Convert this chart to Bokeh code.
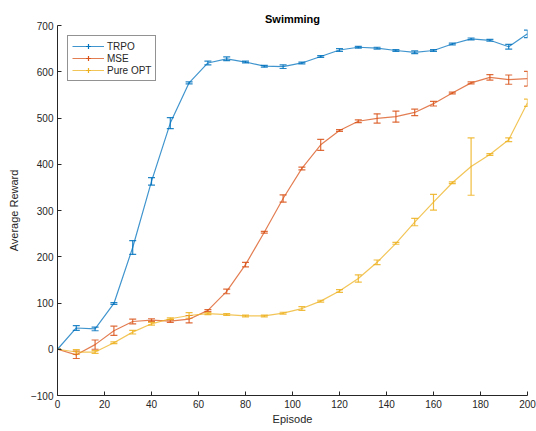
from bokeh.plotting import figure
from bokeh.models import Range1d, Whisker, TeeHead, ColumnDataSource, Legend, LegendItem, FixedTicker
from bokeh.embed import file_html
from bokeh.resources import INLINE
import numpy as np

episodes = [0, 8, 16, 24, 32, 40, 48, 56, 64, 72, 80, 88, 96, 104, 112, 120, 128,
            136, 144, 152, 160, 168, 176, 184, 192, 200]

trpo = [0, 46, 44, 99, 220, 363, 489, 576, 619, 628, 621, 612, 611, 619, 633, 647,
        653, 651, 646, 642, 646, 660, 671, 668, 654, 682]
trpo_err = [0, 5, 4, 2, 15, 8, 12, 2, 4, 4, 2, 2, 4, 2, 2, 3, 2, 2, 2, 3, 2, 2, 2, 2, 5, 8]

mse = [0, -12, 10, 40, 60, 63, 61, 65, 84, 125, 183, 253, 326, 391, 442, 473, 493,
       499, 503, 512, 531, 554, 576, 588, 583, 585]
mse_err = [0, 8, 10, 10, 5, 3, 3, 8, 2, 5, 5, 2, 8, 3, 12, 2, 3, 10, 12, 7, 5, 2, 2, 6, 10, 16]

opt = [0, -6, -6, 14, 37, 55, 66, 73, 77, 75, 72, 72, 78, 88, 104, 126, 153, 188,
       229, 275, 318, 360, 395, 421, 453, 533]
opt_err = [0, 5, 3, 2, 4, 3, 2, 6, 2, 2, 2, 2, 2, 4, 2, 3, 8, 5, 2, 8, 17, 2, 62, 2, 4, 8]

series_names = ["TRPO", "MSE", "Pure OPT"]
series_colors = ["#0072BD", "#D95319", "#EDB120"]

x_ticks = list(range(0, 201, 20))
y_ticks = list(range(-100, 701, 100))

FONT = "Liberation Sans"
TXT = "#262626"

p = figure(width=536, height=431, output_backend="svg", toolbar_location=None,
           x_range=Range1d(0, 200), y_range=Range1d(-100, 700),
           min_border_left=57, min_border_right=9, min_border_top=25, min_border_bottom=36)
p.title.text = "Swimming"
p.title.align = "center"
p.title.text_font = FONT
p.title.text_font_size = "11px"
p.title.text_font_style = "bold"
p.title.text_color = "#000000"
p.title.standoff = 2
p.outline_line_color = None
p.xgrid.visible = False
p.ygrid.visible = False
p.background_fill_color = "white"
p.border_fill_color = "white"

for ax in (p.xaxis[0], p.yaxis[0]):
    ax.major_tick_in = 4
    ax.major_tick_out = 0
    ax.minor_tick_line_color = None
    ax.axis_line_color = TXT
    ax.major_tick_line_color = TXT
    ax.major_label_text_font = FONT
    ax.major_label_text_font_size = "10px"
    ax.major_label_text_color = TXT
    ax.axis_label_text_font = FONT
    ax.axis_label_text_font_size = "11px"
    ax.axis_label_text_font_style = "normal"
    ax.axis_label_text_color = TXT
    ax.major_label_standoff = 4
    ax.axis_label_standoff = 2

p.xaxis[0].ticker = FixedTicker(ticks=x_ticks)
p.yaxis[0].ticker = FixedTicker(ticks=y_ticks)
p.xaxis[0].axis_label = "Episode"
p.yaxis[0].axis_label = "Average Reward"
p.yaxis[0].axis_label_standoff = 8

items = []
for name, color, vals, errs in zip(series_names, series_colors,
                                   [trpo, mse, opt], [trpo_err, mse_err, opt_err]):
    v = np.array(vals, dtype=float)
    e = np.array(errs, dtype=float)
    src = ColumnDataSource(dict(x=episodes, y=v, lo=v - e, hi=v + e))
    ln = p.line("x", "y", source=src, line_color=color, line_width=1.2, line_alpha=0.75)
    w = Whisker(base="x", lower="lo", upper="hi", source=src, dimension="height",
                line_color=color, line_width=1.2, line_alpha=0.85,
                upper_head=TeeHead(size=7, line_color=color, line_width=1.2, line_alpha=0.85),
                lower_head=TeeHead(size=7, line_color=color, line_width=1.2, line_alpha=0.85))
    p.add_layout(w)
    mk = p.scatter(x=[np.nan], y=[np.nan], marker="cross", size=11,
                   line_color=color, line_width=1.2)
    items.append(LegendItem(label=name, renderers=[ln, mk]))

legend = Legend(items=items, location="top_left", margin=10,
                label_text_font=FONT, label_text_font_size="10px", label_text_color=TXT,
                glyph_width=32, glyph_height=12, label_height=12, label_standoff=3,
                padding=4, spacing=0, border_line_color=TXT, border_line_width=1,
                background_fill_alpha=1.0)
p.add_layout(legend)

open("out.html", "w").write(file_html(p, INLINE))
